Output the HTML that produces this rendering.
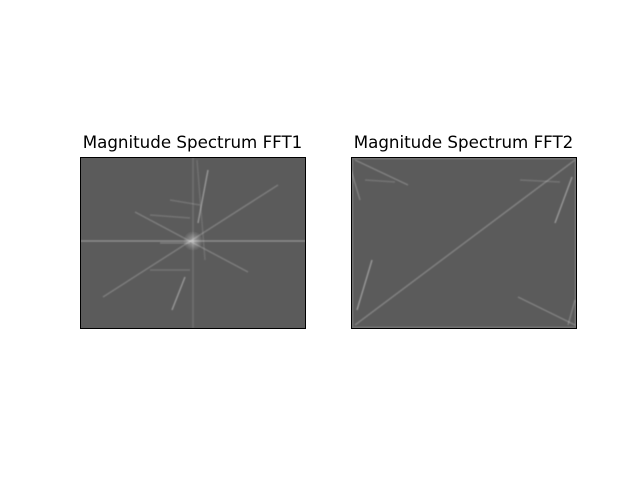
<!DOCTYPE html>
<html><head><meta charset="utf-8"><style>
body{margin:0;background:#fff;width:640px;height:480px;overflow:hidden;font-family:"DejaVu Sans","Liberation Sans",sans-serif}
</style></head><body>
<svg width="640" height="480">
<defs>
<clipPath id="c1"><rect x="80.5" y="157.5" width="225" height="171"/></clipPath>
<clipPath id="c2"><rect x="351.5" y="157.5" width="225" height="171"/></clipPath>
<radialGradient id="glow"><stop offset="0" stop-color="#fff" stop-opacity="0.9"/><stop offset="1" stop-color="#fff" stop-opacity="0"/></radialGradient>
<filter id="bl"><feGaussianBlur stdDeviation="0.6"/></filter>
</defs>
<text x="192.5" y="148" font-size="16.7" text-anchor="middle">Magnitude Spectrum FFT1</text>
<text x="463.5" y="148" font-size="16.7" text-anchor="middle">Magnitude Spectrum FFT2</text>
<g clip-path="url(#c1)">
<rect x="80.5" y="157.5" width="225" height="171" fill="#5b5b5b"/>
<g id="g1" filter="url(#bl)"></g>
<circle cx="193" cy="241" r="10" fill="url(#glow)" opacity="0.5"/>
</g>
<g clip-path="url(#c2)">
<rect x="351.5" y="157.5" width="225" height="171" fill="#5b5b5b"/>
<rect x="351.5" y="157.5" width="225" height="171" fill="none" stroke="#888" stroke-width="4" opacity="0.5"/>
<g id="g2" filter="url(#bl)"></g>
</g>
<rect x="80.5" y="157.5" width="225" height="171" fill="none" stroke="#000"/>
<rect x="351.5" y="157.5" width="225" height="171" fill="none" stroke="#000"/>
</svg>
<script>
// streaks: x1,y1,x2,y2,opacity
const streaks1X1=[80,193,103,135,208,185,197,150,160,150,170];
const streaks1Y1=[241,157,297,212,170,277,160,215,243,270,200];
const streaks1X2=[306,193,278,248,198,172,205,190,190,190,200];
const streaks1Y2=[241,328,185,272,223,310,260,218,243,270,205];
const streaks1Op=[0.3,0.12,0.2,0.2,0.35,0.35,0.12,0.15,0.2,0.15,0.15];
const streaks2X1=[355,355,518,372,572,351,575,365,520];
const streaks2Y1=[325,160,297,260,177,170,300,180,180];
const streaks2X2=[575,408,575,357,555,360,568,395,560];
const streaks2Y2=[160,185,325,310,223,200,325,182,182];
const streaks2Op=[0.22,0.22,0.22,0.35,0.35,0.2,0.2,0.15,0.15];
function draw(id,X1,Y1,X2,Y2,O,name){
  const g=document.getElementById(id);
  for(let i=0;i<X1.length;i++){
    const l=document.createElementNS('http://www.w3.org/2000/svg','line');
    l.setAttribute('x1',X1[i]);l.setAttribute('y1',Y1[i]);
    l.setAttribute('x2',X2[i]);l.setAttribute('y2',Y2[i]);
    l.setAttribute('stroke','#fff');l.setAttribute('stroke-opacity',O[i]);
    l.setAttribute('stroke-width',1.5);
    
    
    g.appendChild(l);
  }
}
draw('g1',streaks1X1,streaks1Y1,streaks1X2,streaks1Y2,streaks1Op,'spectrum-streak');
draw('g2',streaks2X1,streaks2Y1,streaks2X2,streaks2Y2,streaks2Op,'spectrum-streak');
</script>
</body></html>
